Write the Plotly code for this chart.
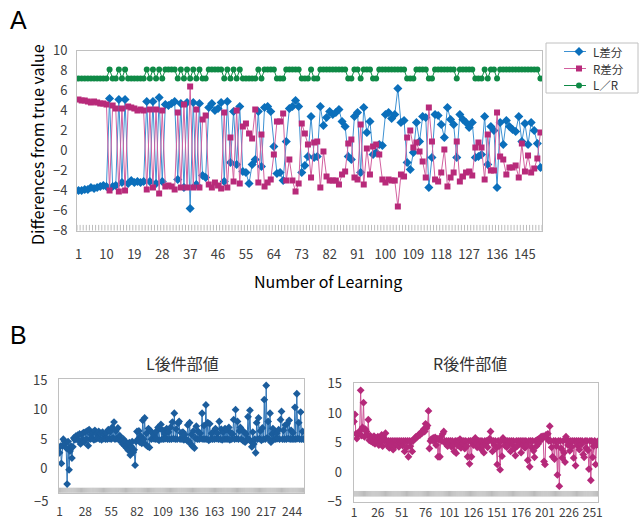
import plotly.graph_objects as go

# ---------------- data: panel A (150 learning steps) ----------------
steps_a = list(range(1, 151))
l_diff = [
    -4.0, -4.0, -3.9, -3.9, -3.7, -3.8, -3.7, -3.6, -3.5, -3.6,
    5.2, -3.6, -3.5, 5.1, -3.2, 5.1, -3.3, -3.0, -3.2, -3.1,
    -3.2, -3.1, 4.9, -3.1, 4.9, -3.3, 5.3, -3.1, 4.6, 4.5,
    4.7, 4.9, -2.9, 4.7, -3.7, 4.8, -5.8, 4.8, -3.4, 4.7,
    -2.5, -2.7, 4.3, 4.7, 4.0, 4.2, 4.8, -3.1, 4.9, -1.2,
    3.9, -1.4, 4.4, -2.1, -2.2, -3.3, -1.4, -0.9, 3.9, -1.6,
    4.3, 4.4, 3.9, 0.4, -2.3, -2.2, -3.0, 0.9, 4.2, 4.4,
    5.0, 4.4, -2.2, -1.5, -0.6, 3.4, -0.7, -0.6, 4.4, 2.5,
    3.3, 3.9, 3.6, 3.8, 4.1, 2.9, 2.4, -0.6, -0.9, 3.4,
    3.8, -2.2, 4.3, 1.8, 2.9, -0.4, -0.2, 0.6, 0.5, 3.6,
    3.8, 3.2, 3.6, 6.2, 2.8, 3.0, -1.2, -1.9, -0.2, 2.8,
    0.9, 3.4, 3.3, -3.7, -0.7, 3.6, 3.5, 2.6, 1.3, 4.3,
    3.1, 2.6, -0.7, 3.6, 3.1, 2.8, 2.3, 2.8, -0.7, -0.6,
    -0.4, 3.4, -1.4, 2.4, 2.0, -3.7, 2.8, 0.6, 3.0, 2.4,
    2.1, 1.9, 3.4, 0.9, 2.7, 0.6, 2.8, 2.0, 0.7, -1.7,
]
r_diff = [
    5.1, 5.0, 5.0, 4.9, 4.8, 4.9, 4.8, 4.7, 4.7, 4.6,
    -4.0, 4.5, 4.2, -4.1, 4.2, -4.0, 4.4, 4.3, 4.2, 4.0,
    4.1, 4.0, -3.9, 4.1, -3.7, 4.1, -4.3, 4.0, -3.6, -3.5,
    -3.6, -3.9, 3.8, -3.7, 4.6, -3.7, 6.4, -3.7, 4.1, -3.7,
    3.1, 3.5, -3.4, -3.7, -3.2, -3.5, -3.8, 3.8, -3.7, 1.3,
    -3.1, 4.0, -3.3, 2.4, 2.7, 1.7, 1.2, 4.1, -3.2, 1.6,
    -3.6, -3.2, -2.9, -0.4, 2.9, 2.9, 3.7, -3.0, -0.9, -3.0,
    -4.1, -3.3, 2.7, 1.7, 0.6, -2.7, 0.8, 0.9, -3.7, -0.1,
    -2.6, -3.0, -3.0, -3.0, -3.4, -2.4, -2.1, 0.7, 1.1, -2.7,
    -2.9, 2.6, -3.4, 0.2, -2.4, 0.4, 0.6, -0.4, -2.9, -3.2,
    -2.9, -3.0, -3.0, -5.6, -2.4, -2.6, 1.3, 2.0, 0.3, 0.8,
    -0.1, -1.1, -2.7, 4.3, 0.9, -2.9, -3.1, -2.2, 0.1, -3.6,
    -2.7, -2.2, 0.9, -3.1, -2.6, -2.2, -2.1, -2.5, 0.3, 0.8,
    0.3, -2.9, 1.6, -2.0, -2.0, 3.8, -0.6, -0.9, -2.4, -1.7,
    -1.7, -1.5, -2.7, 0.7, -2.1, -0.5, -2.2, -1.8, -0.8, 1.8,
]
lr_flag = [
    7.2, 7.2, 7.2, 7.2, 7.2, 7.2, 7.2, 7.2, 7.2, 7.2,
    8.1, 7.2, 7.2, 8.1, 7.2, 8.1, 7.2, 7.2, 7.2, 7.2,
    7.2, 7.2, 8.1, 7.2, 8.1, 7.2, 8.1, 7.2, 8.1, 8.1,
    8.1, 8.1, 7.2, 8.1, 7.2, 8.1, 7.2, 8.1, 7.2, 8.1,
    7.2, 7.2, 8.1, 8.1, 8.1, 8.1, 8.1, 7.2, 8.1, 7.2,
    8.1, 7.2, 8.1, 7.2, 7.2, 7.2, 7.2, 7.2, 8.1, 7.2,
    8.1, 8.1, 8.1, 8.1, 7.2, 7.2, 7.2, 8.1, 8.1, 8.1,
    8.1, 8.1, 7.2, 7.2, 7.2, 8.1, 7.2, 7.2, 8.1, 8.1,
    8.1, 8.1, 8.1, 8.1, 8.1, 8.1, 8.1, 7.2, 7.2, 8.1,
    8.1, 7.2, 8.1, 8.1, 8.1, 7.2, 7.2, 8.1, 8.1, 8.1,
    8.1, 8.1, 8.1, 8.1, 8.1, 8.1, 7.2, 7.2, 7.2, 8.1,
    8.1, 8.1, 8.1, 7.2, 7.2, 8.1, 8.1, 8.1, 8.1, 8.1,
    8.1, 8.1, 7.2, 8.1, 8.1, 8.1, 8.1, 8.1, 7.2, 7.2,
    7.2, 8.1, 7.2, 8.1, 8.1, 7.2, 8.1, 8.1, 8.1, 8.1,
    8.1, 8.1, 8.1, 8.1, 8.1, 8.1, 8.1, 8.1, 8.1, 7.2,
]
series_names = ["L差分", "R差分", "L／R"]
ticks_a = [1, 10, 19, 28, 37, 46, 55, 64, 73, 82, 91, 100, 109, 118, 127, 136, 145]
Y_MIN_A = -8

# ---------------- data: panel B (256 steps) ----------------
steps_b = list(range(1, 257))
l_consequent = [
    2.7, 3.8, 0.9, 3.9, 5.0, 4.7, 4.3, 3.5, -2.6, 4.6, -0.2, 3.0, 3.8, 1.8, 3.7, 5.2,
    4.9, 5.5, 5.0, 5.7, 4.8, 5.9, 4.2, 5.8, 5.0, 6.1, 4.5, 6.2, 5.0, 6.4, 3.9, 6.6,
    5.0, 5.8, 5.1, 6.2, 4.9, 6.5, 5.0, 5.9, 5.2, 6.3, 5.0, 6.0, 4.9, 6.2, 5.1, 5.8,
    5.0, 6.1, 5.0, 6.6, 5.1, 6.3, 5.0, 7.0, 5.2, 7.9, 5.0, 6.4, 5.1, 6.9, 4.9, 5.6,
    4.7, 4.9, 4.2, 5.0, 3.9, 4.6, 3.5, 4.2, 3.1, 4.4, 2.3, 3.8, 4.6, 2.8, 3.2, 0.6,
    4.6, 6.3, 5.0, 6.4, 4.5, 5.5, 4.3, 8.2, 5.0, 8.6, 4.1, 6.0, 3.8, 6.8, 3.6, 6.4,
    5.0, 6.1, 5.1, 5.7, 5.0, 6.3, 5.0, 7.0, 4.8, 6.8, 7.5, 5.0, 6.5, 5.0, 5.9, 5.1,
    6.8, 5.0, 6.2, 5.0, 7.0, 5.0, 7.9, 5.1, 9.4, 5.0, 6.7, 5.0, 7.7, 8.0, 5.0, 6.1,
    5.0, 6.2, 4.9, 5.8, 5.0, 4.8, 7.4, 4.7, 7.8, 4.2, 5.8, 3.8, 6.4, 3.5, 5.2, 7.2,
    5.0, 6.3, 5.0, 6.0, 5.1, 9.4, 5.0, 7.3, 5.0, 10.8, 5.0, 7.8, 4.8, 7.6, 5.0, 6.0,
    5.0, 6.3, 5.0, 6.8, 5.1, 6.0, 5.0, 8.0, 5.0, 6.7, 4.9, 6.2, 5.0, 6.8, 5.0, 6.6,
    5.0, 7.0, 4.9, 6.1, 5.0, 5.9, 8.3, 5.0, 10.0, 5.1, 8.0, 5.0, 6.4, 7.0, 5.0, 6.5,
    4.7, 6.2, 4.5, 5.9, 5.0, 8.8, 5.0, 9.9, 4.6, 3.7, 6.2, 4.2, 5.0, 2.7, 7.8, 5.0,
    8.6, 5.1, 6.4, 4.8, 6.9, 5.0, 11.7, 5.0, 14.1, 5.2, 8.0, 5.0, 9.4, 4.5, 5.9, 6.8,
    5.0, 6.2, 5.0, 6.0, 5.1, 6.6, 5.0, 8.3, 9.7, 5.0, 6.5, 5.0, 7.4, 5.0, 7.6, 5.1,
    8.2, 5.0, 6.5, 5.0, 6.1, 5.0, 10.4, 5.0, 12.7, 5.1, 7.8, 5.0, 9.6, 5.0, 6.3, 5.0,
]
r_consequent = [
    8.6, 9.8, 6.5, 5.7, 6.3, 6.5, 7.0, 13.9, 6.2, 7.6, 11.8, 6.0, 7.3, 6.9, 6.3, 8.9,
    5.4, 6.2, 5.2, 5.9, 5.0, 6.1, 4.8, 5.8, 5.3, 6.0, 4.6, 5.7, 5.2, 6.3, 4.4, 5.9,
    5.3, 6.6, 5.3, 4.5, 5.3, 4.1, 5.3, 4.6, 5.3, 3.8, 5.3, 4.4, 5.3, 4.7, 5.3, 4.3,
    5.3, 4.8, 5.3, 4.5, 5.3, 3.5, 5.3, 4.2, 5.3, 2.6, 5.3, 4.4, 5.3, 3.5, 5.3, 5.6,
    5.8, 6.0, 5.9, 6.2, 6.4, 6.3, 6.7, 6.6, 7.0, 7.3, 6.9, 8.2, 7.5, 7.9, 10.4, 4.0,
    5.3, 5.6, 5.4, 5.8, 5.3, 5.9, 4.6, 5.7, 2.6, 5.5, 2.6, 6.0, 5.3, 6.5, 6.9, 5.3,
    4.8, 5.3, 4.4, 5.3, 4.9, 5.3, 4.3, 5.3, 4.6, 3.5, 5.3, 3.2, 5.3, 4.5, 5.3, 5.6,
    4.1, 5.3, 4.8, 5.3, 4.0, 5.3, 4.4, 2.6, 5.3, 1.4, 5.3, 2.6, 5.3, 4.6, 5.3, 5.8,
    5.3, 4.2, 5.3, 4.7, 5.3, 3.9, 5.3, 4.5, 3.3, 5.3, 4.8, 5.3, 4.2, 5.3, 5.7, 6.9,
    5.3, 3.5, 5.3, 4.6, 5.3, 4.1, 1.3, 5.3, 4.4, 0.4, 5.3, 2.7, 5.8, 5.3, 4.5, 5.3,
    4.2, 5.3, 4.8, 5.3, 3.5, 5.3, 4.6, 5.3, 4.0, 2.8, 5.3, 4.4, 5.3, 4.8, 5.3, 3.3,
    5.3, 4.5, 5.3, 4.1, 5.3, 4.6, 2.0, 5.3, 0.9, 5.3, 4.2, 5.3, 3.6, 2.5, 5.3, 4.4,
    5.5, 4.8, 5.7, 5.4, 6.0, 5.6, 6.1, 1.8, 1.3, 6.3, 5.8, 6.5, 5.3, 7.8, 5.3, 4.2,
    2.6, 5.3, 2.2, 5.3, 4.4, -0.5, 5.3, -2.4, 5.3, 4.0, 2.4, 5.3, 3.3, 1.7, 6.0, 5.3,
    4.6, 5.3, 3.6, 5.3, 4.3, 5.3, 2.4, 5.3, 1.1, 5.3, 4.5, 5.3, 3.8, 5.3, 4.7, 5.3,
    3.0, 2.5, 5.3, 4.1, 5.3, 3.7, 0.5, 5.3, -1.4, 5.3, 2.5, 4.4, 5.3, 1.3, 4.6, 5.2,
]
ticks_bl = [1, 28, 55, 82, 109, 136, 163, 190, 217, 244]
ticks_br = [1, 26, 51, 76, 101, 126, 151, 176, 201, 226, 251]
AXIS_CROSS = -3.7   # level where the category axis of panel B crosses

# ---------------- styling ----------------
W, H = 641, 522
FONT = "Noto Sans CJK JP"
TXT = "#404040"
FRAME = "#c0c0c0"
TICK = "#bcbcbc"
BLUE, BLUE_LINE = "#0b6fbb", "#3d91d2"
PINK, PINK_LINE = "#b82a7a", "#d2609f"
GREEN = "#0f8a46"
BLUE_B, BLUE_B_LINE = "#1b5d9d", "#2f74b6"
PINK_B, PINK_B_LINE = "#b5297a", "#cc4f95"

styles_a = [
    dict(line=dict(color=BLUE_LINE, width=1), marker=dict(symbol="diamond", size=7, color=BLUE)),
    dict(line=dict(color=PINK_LINE, width=1), marker=dict(symbol="square", size=6, color=PINK)),
    dict(line=dict(color=GREEN, width=1), marker=dict(symbol="circle", size=6, color=GREEN)),
]

# legend box of panel A, in pixels (left, top, right, bottom) and row layout
LEG = (546, 43, 638, 93)
LEG_FONT = 11.5
LEG_PITCH = 17
LEG_ROW0 = 51.5
LEG_KEY = (564, 586)                # x extent of the key line
LEG_TEXT_X = 592


def px_x(a, b):
    return [a / W, b / W]


def px_y(top, bottom):
    return [1 - bottom / H, 1 - top / H]


fig = go.Figure()

# panel A: category tick marks between steps, drawn on the bottom edge (clipped half shows)
bounds_a = [s - 0.5 for s in steps_a] + [steps_a[-1] + 0.5]
fig.add_trace(go.Scatter(x=bounds_a, y=[Y_MIN_A] * len(bounds_a), mode="markers",
                         hoverinfo="skip", cliponaxis=True,
                         marker=dict(symbol="line-ns", size=8, color=TICK,
                                     line=dict(color=TICK, width=1)),
                         xaxis="x", yaxis="y"))

# panel A series
for name, ys, st in zip(series_names, [l_diff, r_diff, lr_flag], styles_a):
    fig.add_trace(go.Scatter(x=steps_a, y=ys, name=name, mode="lines+markers",
                             xaxis="x", yaxis="y", **st))

# panel A legend keys (line with the series marker in its middle), on a pixel-space overlay
for k, st in enumerate(styles_a):
    yk = LEG_ROW0 + k * LEG_PITCH
    xm = (LEG_KEY[0] + LEG_KEY[1]) / 2 + 4
    fig.add_trace(go.Scatter(x=[LEG_KEY[0], xm, LEG_KEY[1]], y=[yk, yk, yk], mode="lines",
                             line=st["line"], hoverinfo="skip", xaxis="x5", yaxis="y5"))
    fig.add_trace(go.Scatter(x=[xm], y=[yk], mode="markers", marker=st["marker"],
                             hoverinfo="skip", xaxis="x5", yaxis="y5"))

# panel B category axis ticks
for xa, ya in (("x2", "y2"), ("x3", "y3")):
    fig.add_trace(go.Scatter(x=steps_b, y=[AXIS_CROSS] * len(steps_b), mode="markers",
                             hoverinfo="skip",
                             marker=dict(symbol="line-ns", size=4, color=TICK,
                                         line=dict(color=TICK, width=1)),
                             xaxis=xa, yaxis=ya))

# panel B series
fig.add_trace(go.Scatter(x=steps_b, y=l_consequent, mode="lines+markers",
                         line=dict(color=BLUE_B_LINE, width=1),
                         marker=dict(symbol="diamond", size=6, color=BLUE_B),
                         xaxis="x2", yaxis="y2"))
fig.add_trace(go.Scatter(x=steps_b, y=r_consequent, mode="lines+markers",
                         line=dict(color=PINK_B_LINE, width=1),
                         marker=dict(symbol="diamond", size=6, color=PINK_B),
                         xaxis="x3", yaxis="y3"))

tickfont = dict(family=FONT, size=13, color=TXT)
tickfont_b = dict(family=FONT, size=12, color=TXT)
frame = dict(showline=True, linecolor=FRAME, linewidth=1, mirror=True,
             showgrid=False, zeroline=False, automargin=False)
hidden = dict(visible=False, automargin=False, fixedrange=True)

fig.update_layout(
    width=W, height=H,
    margin=dict(l=0, r=0, t=0, b=0, autoexpand=False),
    paper_bgcolor="white", plot_bgcolor="rgba(0,0,0,0)",
    font=dict(family=FONT, color=TXT),
    showlegend=False,
    xaxis=dict(domain=px_x(77, 542), anchor="y", range=[0.5, 150.5],
               tickmode="array", tickvals=ticks_a, ticktext=[str(t) for t in ticks_a],
               ticks="", tickangle=0, tickfont=tickfont, ticklabelstandoff=12, **frame),
    yaxis=dict(domain=px_y(50.5, 230.5), anchor="x", range=[Y_MIN_A, 10], tickmode="linear",
               tick0=-8, dtick=2, ticks="", tickfont=tickfont, ticklabelstandoff=6, **frame),
    xaxis2=dict(domain=px_x(59, 304), anchor="y2", range=[0.5, 256.5],
                tickmode="array", tickvals=ticks_bl, ticktext=[str(t) for t in ticks_bl],
                ticks="", tickangle=0, tickfont=tickfont_b, ticklabelstandoff=8, **frame),
    yaxis2=dict(domain=px_y(379.3, 492.7), anchor="x2", range=[-4.07, 15.15],
                tickmode="array", tickvals=[0, 5, 10, 15], ticks="",
                tickfont=tickfont, ticklabelstandoff=8, **frame),
    xaxis3=dict(domain=px_x(353.5, 598), anchor="y3", range=[0.5, 256.5],
                tickmode="array", tickvals=ticks_br, ticktext=[str(t) for t in ticks_br],
                ticks="", tickangle=0, tickfont=tickfont_b, ticklabelstandoff=0, **frame),
    yaxis3=dict(domain=px_y(382.7, 502), anchor="x3", range=[-5.1, 15.2],
                tickmode="array", tickvals=[-5, 0, 5, 10, 15], ticktext=["−5", "0", "5", "10", "15"],
                ticks="", tickfont=tickfont, ticklabelstandoff=8, **frame),
    xaxis5=dict(domain=px_x(LEG[0], LEG[2]), anchor="y5", range=[LEG[0], LEG[2]], **hidden),
    yaxis5=dict(domain=px_y(LEG[1], LEG[3]), anchor="x5", range=[LEG[3], LEG[1]], **hidden),
    shapes=[dict(type="rect", xref="paper", yref="paper",
                 x0=LEG[0] / W, x1=LEG[2] / W, y0=1 - LEG[3] / H, y1=1 - LEG[1] / H,
                 line=dict(color=FRAME, width=1), fillcolor="white", layer="below")],
)

annotations = [
    dict(text="A", x=8 / W, y=1 - 4 / H, xanchor="left", yanchor="top",
         font=dict(family="Liberation Sans", size=25, color="black")),
    dict(text="B", x=8 / W, y=1 - 319 / H, xanchor="left", yanchor="top",
         font=dict(family="Liberation Sans", size=25, color="black")),
    dict(text="Differences from true value", x=37 / W, y=1 - 145 / H, textangle=-90,
         xanchor="center", yanchor="middle",
         font=dict(family=FONT, size=16, color="black")),
    dict(text="Number of Learning", x=328 / W, y=1 - 281 / H, xanchor="center", yanchor="middle",
         font=dict(family=FONT, size=16, color="black")),
    dict(text="L後件部値", x=182 / W, y=1 - 363 / H, xanchor="center", yanchor="middle",
         font=dict(family=FONT, size=16, color="#333333")),
    dict(text="R後件部値", x=470 / W, y=1 - 363 / H, xanchor="center", yanchor="middle",
         font=dict(family=FONT, size=16, color="#333333")),
    # lowest value label of the left panel B axis sits below its frame
    dict(text="−5", x=50 / W, y=1 - 500.7 / H, xanchor="right", yanchor="middle",
         font=tickfont),
]
# legend labels, one per row
for k, name in enumerate(series_names):
    annotations.append(dict(text=name, x=LEG_TEXT_X / W, y=1 - (LEG_ROW0 + k * LEG_PITCH) / H,
                            xanchor="left", yanchor="middle", borderpad=0,
                            font=dict(family=FONT, size=LEG_FONT, color="#333333")))
for a in annotations:
    a.setdefault("showarrow", False)
    a.setdefault("xref", "paper")
    a.setdefault("yref", "paper")
fig.update_layout(annotations=annotations)

fig.write_html("out.html")
